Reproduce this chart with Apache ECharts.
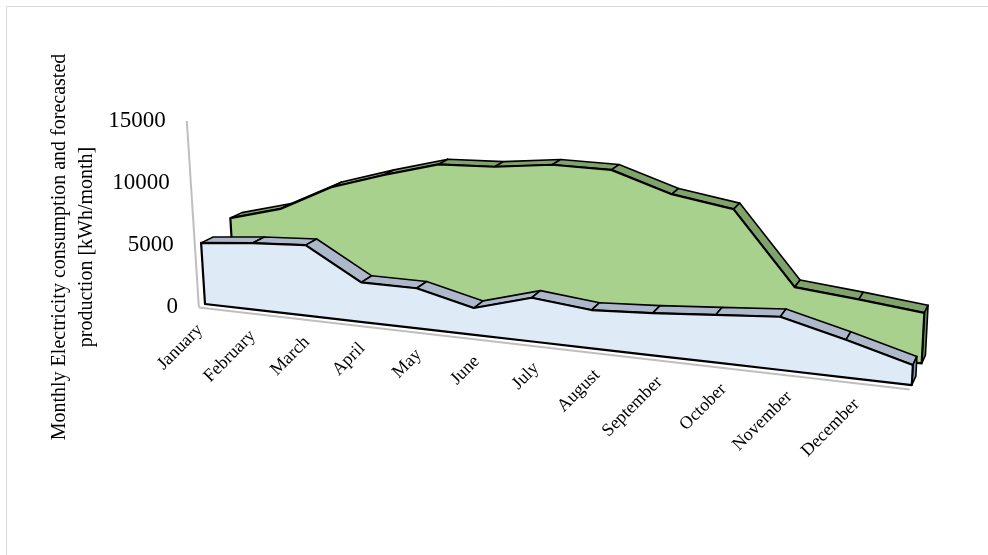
<!DOCTYPE html>
<html style="height:100%">
<head>
  <meta charset="UTF-8">
  <title>Monthly electricity consumption and forecasted production</title>
  <script src="https://cdn.jsdelivr.net/npm/echarts@6/dist/echarts.min.js"></script>
  <style>
    html, body { margin: 0; padding: 0; background: #fff; }
    #chart { width: 988px; height: 555px; }
  </style>
</head>
<body>
<div id="chart"></div>
<script>
  // ---------------------------------
  // Data (kWh/month)
  // the last point of the area has no label on the axis
  var months = ['January', 'February', 'March', 'April', 'May', 'June', 'July',
                'August', 'September', 'October', 'November', 'December', ''];
  var consumption = [4950, 5350, 5600, 3100, 3100, 2050, 3300, 2850, 3100, 3450, 3800, 2650, 1400];
  var production  = [5800, 6950, 9100, 10450, 11650, 11800, 12300, 12250, 10750, 10000, 4600, 4150, 3650];
  var valueTicks  = [0, 5000, 10000, 15000];
  // ---------------------------------

  var FONT = '"Liberation Serif", "Times New Roman", serif';
  var Y_MAX = 15000;

  // perspective "camera" used to bend the flat grid into the 3D look
  var CAM = {
    x0: 205, y0: 304,       // front-left floor corner
    A: 581, B: 27.9,        // along the category axis
    C: -0.138,              // perspective along categories
    E: 0.0122, Dx: 14.64, Dy: -3.05,  // depth
    K: 12.35,               // px per 1000 at the front-left
    xv: 600, yv: 6500       // vertical vanishing point (slight lean)
  };
  var SLAB = 1;            // depth of one series
  var BLUE_Z = 0, GREEN_Z = 2.5, AXIS_Z = -0.5;

  // t: 0..1 along categories, Y: thousands, z: depth units
  function project(t, Y, z) {
    var w = 1 + CAM.C * t + CAM.E * z;
    var sx = (CAM.x0 + CAM.A * t + CAM.Dx * z) / w;
    var sy = (CAM.y0 + CAM.B * t + CAM.Dy * z - CAM.K * Y) / w;
    var sy0 = (CAM.y0 + CAM.B * t + CAM.Dy * z) / w;
    sx = CAM.xv + (sx - CAM.xv) * (CAM.yv - sy) / (CAM.yv - sy0);
    return [sx, sy];
  }

  // go through the (hidden) cartesian scales first, then project
  function makeProjector(params, api) {
    var cs = params.coordSys;
    return function (i, v, z) {
      var p = api.coord([i, v]);
      var t = (p[0] - cs.x) / cs.width;
      var Y = (cs.y + cs.height - p[1]) / cs.height * (Y_MAX / 1000);
      var s = project(t, Y, z);
      s.t = t;
      return s;
    };
  }

  function slabRenderer(z0, faceColor, bandColor, endColor) {
    return function (params, api) {
      if (params.dataIndex !== 0) return null;
      var proj = makeProjector(params, api);
      var n = params.dataInsideLength;
      var front = [], back = [], base = [], backBase = [];
      for (var j = 0; j < n; j++) {
        var i = api.value(0, j), v = api.value(1, j);
        front.push(proj(i, v, z0));
        back.push(proj(i, v, z0 + SLAB));
        base.push(proj(i, 0, z0));
        backBase.push(proj(i, 0, z0 + SLAB));
      }
      var children = [];
      // top band, one piece per interval
      for (var k = 0; k < n - 1; k++) {
        children.push({
          type: 'polygon',
          shape: { points: [front[k], front[k + 1], back[k + 1], back[k]] },
          style: { fill: bandColor, stroke: '#000', lineWidth: 1.6, lineJoin: 'round' }
        });
      }
      // right end face
      children.push({
        type: 'polygon',
        shape: { points: [base[n - 1], front[n - 1], back[n - 1], backBase[n - 1]] },
        style: { fill: endColor, stroke: '#000', lineWidth: 1.6, lineJoin: 'round' }
      });
      // front face
      children.push({
        type: 'polygon',
        shape: { points: front.concat(base.slice().reverse()) },
        style: { fill: faceColor, stroke: '#000', lineWidth: 2.2, lineJoin: 'round' }
      });
      return { type: 'group', children: children };
    };
  }

  function axesRenderer(params, api) {
    if (params.dataIndex !== 0) return null;
    var proj = makeProjector(params, api);
    var last = months.length - 1;
    var children = [];
    // floor front edge
    var f0 = proj(0, 0, AXIS_Z), f1 = proj(last, 0, AXIS_Z);
    children.push({
      type: 'line',
      shape: { x1: f0[0], y1: f0[1], x2: f1[0], y2: f1[1] },
      style: { stroke: '#bfbfbf', lineWidth: 2 }
    });
    // value axis line
    var a0 = proj(0, valueTicks[0], AXIS_Z);
    var a1 = proj(0, valueTicks[valueTicks.length - 1], AXIS_Z);
    children.push({
      type: 'line',
      shape: { x1: a0[0], y1: a0[1], x2: a1[0], y2: a1[1] },
      style: { stroke: '#bfbfbf', lineWidth: 2 }
    });
    // value labels
    for (var j = 0; j < params.dataInsideLength; j++) {
      var tv = api.value(1, j);
      var p = proj(0, tv, AXIS_Z);
      children.push({
        type: 'text',
        x: p[0] - 21, y: p[1],
        style: { text: String(tv), fontFamily: FONT, fontSize: 23, fill: '#000',
                 align: 'right', verticalAlign: 'middle' }
      });
    }
    // category labels
    for (var i = 0; i < months.length; i++) {
      if (!months[i]) continue;
      var q = proj(i, 0, AXIS_Z);
      children.push({
        type: 'text',
        x: q[0] + 1 + 15 * q.t, y: q[1] + 20,
        rotation: Math.PI / 4,
        style: { text: months[i], fontFamily: FONT, fontSize: 18, fill: '#000',
                 align: 'right', verticalAlign: 'middle' }
      });
    }
    return { type: 'group', children: children };
  }

  var chart = echarts.init(document.getElementById('chart'), null, { renderer: 'canvas' });

  var option = {
    animation: false,
    grid: { left: 0, right: 0, top: 0, bottom: 0 },
    xAxis: { type: 'category', data: months, boundaryGap: false, show: false },
    yAxis: { type: 'value', min: 0, max: Y_MAX, interval: 5000, show: false },
    graphic: [
      {
        type: 'rect', silent: true,
        shape: { x: 6.5, y: 6.5, width: 1000, height: 600 },
        style: { fill: 'none', stroke: '#d9d9d9', lineWidth: 1 }
      },
      {
        type: 'text',
        x: 73, y: 247, rotation: Math.PI / 2,
        style: {
          text: 'Monthly Electricity consumption and forecasted\nproduction [kWh/month]',
          fontFamily: FONT, fontSize: 20, lineHeight: 27, fill: '#000',
          align: 'center', verticalAlign: 'middle'
        }
      }
    ],
    series: [
      {
        name: 'axes', type: 'custom', clip: false, z: 1,
        data: valueTicks.map(function (v) { return [0, v]; }),
        renderItem: axesRenderer
      },
      {
        name: 'Forecasted production', type: 'custom', clip: false, z: 2,
        data: production.map(function (v, j) { return [j, v]; }),
        renderItem: slabRenderer(GREEN_Z, '#a9d18e', '#80a36b', '#6b8f56')
      },
      {
        name: 'Consumption', type: 'custom', clip: false, z: 3,
        data: consumption.map(function (v, j) { return [j, v]; }),
        renderItem: slabRenderer(BLUE_Z, '#deebf7', '#adb9ca', '#8f9db0')
      }
    ]
  };

  chart.setOption(option);
</script>
</body>
</html>
